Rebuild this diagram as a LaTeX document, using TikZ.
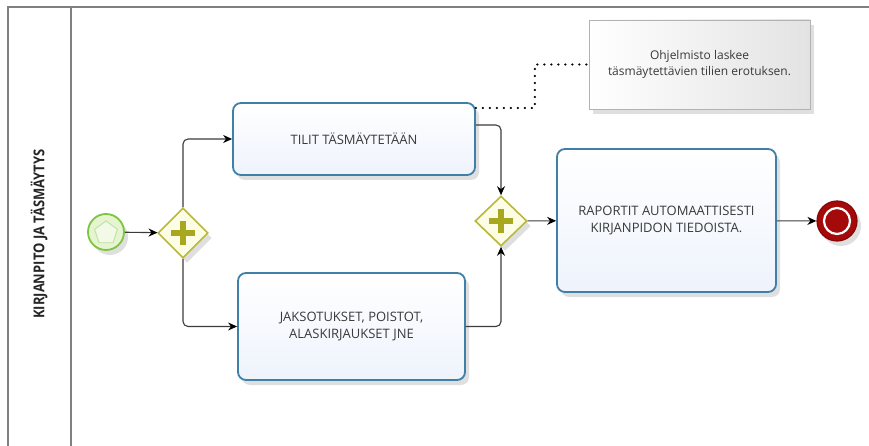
\documentclass[tikz,border=0pt]{standalone}
\usepackage{fontspec}
\setmainfont{Open Sans}
\usetikzlibrary{shapes.geometric,arrows.meta,shadows,calc}
\definecolor{taskborder}{HTML}{3F7FA8}
\definecolor{taskfill}{HTML}{EEF3FC}
\definecolor{gwborder}{HTML}{B8B83A}
\definecolor{gwfill}{HTML}{FDFDE6}
\definecolor{gwplus}{HTML}{A8A820}
\definecolor{stborder}{HTML}{7DC443}
\definecolor{stfill}{HTML}{E6F5CF}
\definecolor{endred}{HTML}{A50A0A}
\definecolor{txt}{HTML}{3A3A3A}
\definecolor{flowc}{HTML}{3C3C3C}
\definecolor{lanec}{HTML}{808080}
\tikzset{
  shad/.style={drop shadow={opacity=0.25,shadow xshift=4pt,shadow yshift=-5pt}},
  taskbox/.style={draw=taskborder,line width=1.8pt,rounded corners=8pt,
    top color=white,bottom color=taskfill,inner sep=0pt,align=center,
    text=txt,font=\fontsize{13}{17}\selectfont,shad},
  gateway/.style={diamond,draw=gwborder,line width=1.6pt,fill=gwfill,
    inner sep=0pt,minimum width=50pt,minimum height=50pt,shad},
  flow/.style={draw=flowc,line width=1.1pt,rounded corners=5pt,
    -{Stealth[length=9pt,width=8pt,black]}},
  lane/.style={draw=lanec,line width=1.4pt},
  dotline/.style={line width=2.4pt,dash pattern=on 0pt off 7pt,line cap=round,black}
}
\newcommand{\gwplus}[1]{%
  \draw[gwplus,line width=6pt] ($(#1)+(-12,0)$) -- ($(#1)+(12,0)$);
  \draw[gwplus,line width=6pt] ($(#1)+(0,-12)$) -- ($(#1)+(0,12)$);}
\begin{document}
\begin{tikzpicture}[x=1pt,y=-1pt]
\useasboundingbox (0,0) rectangle (869,446);
% pool / lane
\draw[lane] (8,446) -- (8,7) -- (869,7);
\draw[lane] (71,7) -- (71,446);
\node[rotate=90,font=\bfseries\fontsize{13}{15}\selectfont,text=black!85,yscale=1.15] (lanelbl) at (39,234) {KIRJANPITO JA TÄSMÄYTYS};
% start event
\node[circle,draw=stborder,line width=1.8pt,fill=stfill,minimum size=36pt,inner sep=0pt,shad] (st) at (106,232) {};
\node[regular polygon,regular polygon sides=5,draw=stborder!50,line width=0.9pt,fill=stfill!50,minimum size=24pt,inner sep=0pt] (stp) at (106,233) {};
% gateways
\node[gateway] (g1) at (183,233) {};
\gwplus{g1}
\node[gateway,minimum width=52pt] (g2) at (501,221) {};
\gwplus{g2}
% tasks
\node[taskbox,minimum width=242pt,minimum height=72pt] (t1) at (354,139) {TILIT TÄSMÄYTETÄÄN};
\node[taskbox,minimum width=227pt,minimum height=107pt] (t2) at (351.5,326.5) {JAKSOTUKSET, POISTOT,\\ALASKIRJAUKSET JNE};
\node[taskbox,minimum width=219pt,minimum height=143pt] (t3) at (666.5,220.5) {RAPORTIT AUTOMAATTISESTI\\KIRJANPIDON TIEDOISTA.};
% end event
\node[circle,draw=endred!80!black,line width=1.2pt,fill=endred,minimum size=40pt,inner sep=0pt,shad] (en) at (837,221) {};
\node[circle,draw=white,line width=2.2pt,fill=endred,minimum size=26pt,inner sep=0pt] (eni) at (837,221) {};
% annotation
\node[draw=gray!60,line width=0.8pt,left color=white,right color=gray!22,
  minimum width=221pt,minimum height=89pt,inner sep=0pt,align=center,text=txt,
  font=\fontsize{12}{16}\selectfont,shad] (ann) at (699.5,64.5)
  {Ohjelmisto laskee\\täsmäytettävien tilien erotuksen.};
% flows
\draw[flow] (st) -- (g1);
\draw[flow] (g1.north) |- (t1.west);
\draw[flow] (g1.south) |- (t2.west);
\draw[flow] ([yshift=14pt]t1.east) -| (g2.north);
\draw[flow] (t2.east) -| (g2.south);
\draw[flow] (g2) -- (t3);
\draw[flow] (t3) -- (en);
% association
\draw[dotline] ([yshift=31pt]t1.east) -- ++(59,0) |- (ann.west);
\end{tikzpicture}
\end{document}
